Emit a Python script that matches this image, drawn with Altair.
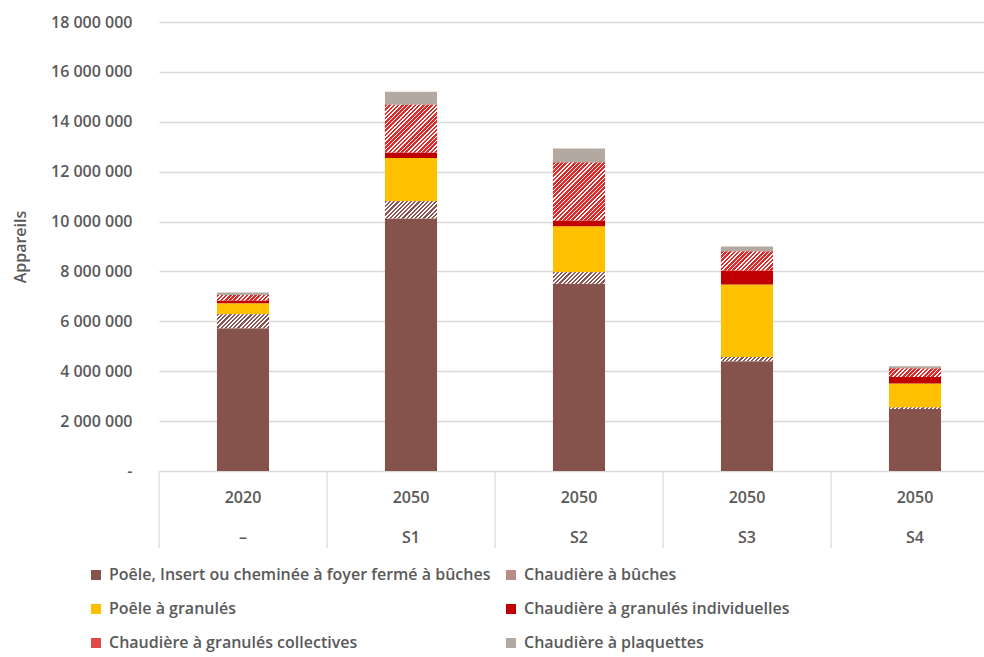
import altair as alt
import pandas as pd

# Categories: year (first line) and scenario (second line)
years = ["2020", "2050", "2050", "2050", "2050"]
scenarios = ["–", "S1", "S2", "S3", "S4"]

# Series, stacked bottom to top
series = [
    "Poêle, Insert ou cheminée à foyer fermé à bûches",
    "Chaudière à bûches",
    "Poêle à granulés",
    "Chaudière à granulés individuelles",
    "Chaudière à granulés collectives",
    "Chaudière à plaquettes",
]
poele_insert = [5720000, 10120000, 7510000, 4400000, 2490000]
chaudiere_buches = [560000, 690000, 460000, 170000, 60000]
poele_granules = [440000, 1740000, 1840000, 2910000, 960000]
chaudiere_granules_indiv = [120000, 220000, 230000, 560000, 260000]
chaudiere_granules_coll = [220000, 1910000, 2330000, 760000, 340000]
chaudiere_plaquettes = [100000, 520000, 560000, 200000, 90000]

values = [poele_insert, chaudiere_buches, poele_granules,
          chaudiere_granules_indiv, chaudiere_granules_coll, chaudiere_plaquettes]

colors = ["#85524c", "#b88d88", "#ffc000", "#c00000", "#e04a48", "#b4a9a0"]
# hatched series: stripe colour
hatch = {1: "#8a5550", 4: "#dd2b2b"}

TEXT = "#595959"
GRID = "#d9d9d9"
FONT_SIZE = 16
W, H = 825, 449          # plot area
XRANGE = 840             # five 168 px steps
YMAX = 18000000
PAD_IN, PAD_OUT = 0.69, 0.345

cats = [f"{y}|{s}" for y, s in zip(years, scenarios)]

rows = []
for i, c in enumerate(cats):
    cum = 0
    for k, s in enumerate(series):
        v = values[k][i]
        rows.append({"cat": c, "series": s, "sid": k, "start": cum, "end": cum + v, "value": v})
        cum += v
df = pd.DataFrame(rows)

# legend grid is filled column by column: order entries so rows read in stacking order
legend_order = [0, 2, 4, 1, 3, 5]
legend_domain = [series[i] for i in legend_order]
legend_range = [colors[i] for i in legend_order]

x_enc = alt.X(
    "cat:N", sort=cats,
    scale=alt.Scale(domain=cats, range=[0, XRANGE], paddingInner=PAD_IN, paddingOuter=PAD_OUT),
    axis=alt.Axis(title=None, labelExpr="split(datum.label, '|')", domain=False, ticks=False,
                  labelAngle=0, labelPadding=18, labelLineHeight=40, labelFontSize=FONT_SIZE,
                  labelColor=TEXT, labelFontWeight=600),
)
y_enc = alt.Y(
    "start:Q",
    scale=alt.Scale(domain=[0, YMAX], nice=False),
    axis=alt.Axis(
        title="Appareils", values=list(range(0, YMAX + 1, 2000000)),
        labelExpr="datum.value == 0 ? '-' : replace(format(datum.value, ','), regexp(',', 'g'), ' ')",
        grid=True, gridColor=GRID, gridWidth=1.5, domain=False, ticks=False,
        labelPadding=27, labelFontSize=FONT_SIZE, labelColor=TEXT, labelFontWeight=600,
        titleFontSize=FONT_SIZE, titleColor=TEXT, titleFontWeight=600,
        titleAngle=-90, titleX=-139, titleY=H / 2, titleAlign="center", titleBaseline="middle",
    ),
)

bars = alt.Chart(df).mark_bar().encode(
    x=x_enc, y=y_enc, y2="end",
    color=alt.Color(
        "series:N",
        scale=alt.Scale(domain=legend_domain, range=legend_range),
        legend=alt.Legend(
            title=None, orient="none", legendX=-71, legendY=545, columns=2,
            symbolType="square", symbolSize=100, symbolStrokeWidth=0,
            labelFontSize=FONT_SIZE, labelColor=TEXT, labelFontWeight=600,
            labelOffset=5, labelLimit=600, rowPadding=18, columnPadding=12,
        ),
    ),
)

# Diagonal hatching drawn as a striped gradient on each hatched segment
bandwidth = XRANGE / (len(cats) - PAD_IN + 2 * PAD_OUT) * (1 - PAD_IN)
PERIOD = 4.2


def stripes(color, h, w, frac):
    r = max(h, 0.5) / w
    k = (1 + r) / (1 + r * r)
    n = (w + max(h, 0.5)) / PERIOD
    stops = []
    j = 0
    while j / n < 1:
        a = j / n
        b = min((j + frac) / n, 1)
        e = min((j + 1) / n, 1)
        stops += [alt.GradientStop(color=color, offset=a), alt.GradientStop(color=color, offset=b),
                  alt.GradientStop(color="#ffffff", offset=b), alt.GradientStop(color="#ffffff", offset=e)]
        j += 1
    return alt.Gradient(gradient="linear", x1=0, y1=0, x2=k, y2=k * r, stops=stops)


layers = [bars]
for sid, col in hatch.items():
    for i, c in enumerate(cats):
        h = values[sid][i] / YMAX * H
        frac = 0.5 if sid == 1 else 0.62
        layers.append(
            alt.Chart(df)
            .transform_filter((alt.datum.sid == sid) & (alt.datum.cat == c))
            .mark_bar(fill=stripes(col, h, bandwidth, frac))
            .encode(x=x_enc, y=y_enc, y2="end")
        )

# Category separators below the axis
sep = (
    alt.Chart(pd.DataFrame({"cat": cats}))
    .mark_rule(color=GRID, strokeWidth=1.2, xOffset=-XRANGE / len(cats) / 2)
    .encode(x=x_enc, y=alt.value(H), y2=alt.value(H + 77))
)
layers.append(sep)

chart = (
    alt.layer(*layers)
    .properties(width=W, height=H, autosize=alt.AutoSizeParams(type="none"),
                padding={"left": 159, "top": 22, "right": 0, "bottom": 186})
    .configure(font="Open Sans")
    .configure_view(stroke=None)
)

chart.save("out.html", embed_options={"renderer": "svg", "actions": False})
